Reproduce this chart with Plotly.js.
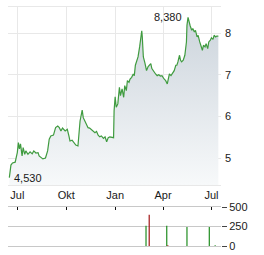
<!DOCTYPE html>
<html><head><meta charset="utf-8">
<script src="https://cdn.plot.ly/plotly-3.0.1.min.js"></script>
<style>html,body{margin:0;padding:0;background:#fff}#c{width:264px;height:255px}</style>
</head><body><div id="c"></div>
<script>
const dates = ["2024-06-16","2024-06-19","2024-06-22","2024-06-27","2024-07-01","2024-07-03","2024-07-05","2024-07-07","2024-07-10","2024-07-12","2024-07-15","2024-07-17","2024-07-21","2024-07-25","2024-07-29","2024-08-01","2024-08-05","2024-08-09","2024-08-11","2024-08-15","2024-08-18","2024-08-23","2024-08-27","2024-08-30","2024-09-02","2024-09-07","2024-09-11","2024-09-15","2024-09-18","2024-09-21","2024-09-24","2024-09-29","2024-10-03","2024-10-06","2024-10-08","2024-10-12","2024-10-15","2024-10-19","2024-10-23","2024-10-27","2024-10-31","2024-11-02","2024-11-05","2024-11-08","2024-11-11","2024-11-14","2024-11-18","2024-11-21","2024-11-24","2024-11-27","2024-11-30","2024-12-03","2024-12-06","2024-12-10","2024-12-13","2024-12-16","2024-12-19","2024-12-22","2024-12-26","2024-12-29","2024-12-30","2025-01-01","2025-01-03","2025-01-06","2025-01-09","2025-01-11","2025-01-14","2025-01-17","2025-01-19","2025-01-22","2025-01-24","2025-01-27","2025-01-29","2025-02-01","2025-02-04","2025-02-06","2025-02-08","2025-02-10","2025-02-13","2025-02-16","2025-02-18","2025-02-20","2025-02-21","2025-02-23","2025-02-26","2025-03-01","2025-03-04","2025-03-06","2025-03-09","2025-03-11","2025-03-15","2025-03-18","2025-03-21","2025-03-24","2025-03-27","2025-03-30","2025-04-03","2025-04-06","2025-04-09","2025-04-11","2025-04-13","2025-04-16","2025-04-19","2025-04-22","2025-04-25","2025-04-27","2025-04-29","2025-05-02","2025-05-04","2025-05-06","2025-05-09","2025-05-12","2025-05-15","2025-05-16","2025-05-18","2025-05-20","2025-05-22","2025-05-25","2025-05-27","2025-05-30","2025-06-01","2025-06-04","2025-06-06","2025-06-09","2025-06-11","2025-06-14","2025-06-16","2025-06-19","2025-06-21","2025-06-24","2025-06-26","2025-06-29","2025-07-01","2025-07-04","2025-07-06","2025-07-09","2025-07-11","2025-07-14"];
const prices = [4.53,4.83,4.88,4.90,5.13,5.37,5.22,5.34,5.05,5.25,5.09,5.17,5.09,5.15,5.10,5.17,5.12,5.13,5.05,5.02,4.98,5.00,5.17,5.45,5.53,5.55,5.73,5.77,5.73,5.65,5.72,5.65,5.69,5.53,5.41,5.43,5.37,5.31,5.29,5.89,6.15,5.97,5.89,5.81,5.73,5.72,5.67,5.65,5.61,5.64,5.55,5.51,5.53,5.47,5.51,5.39,5.49,5.51,5.49,5.49,6.14,6.47,6.22,6.30,6.70,6.50,6.66,6.46,6.74,6.62,6.86,6.82,6.90,6.94,7.02,6.98,7.23,7.31,7.43,7.67,7.91,8.06,7.91,7.43,7.28,7.10,7.20,7.23,7.27,7.15,7.06,7.02,6.98,7.00,6.97,6.98,6.90,6.86,6.78,6.94,7.02,6.98,7.06,7.10,7.23,7.23,7.31,7.47,7.35,7.31,7.35,7.47,7.79,8.19,8.38,8.23,8.18,8.07,8.11,8.03,8.07,7.91,7.95,7.79,7.71,7.59,7.71,7.67,7.75,7.63,7.79,7.83,7.89,7.85,7.95,7.91,7.93,7.93];
const volDates = ["2025-02-28","2025-03-06","2025-04-08","2025-04-10","2025-05-16","2025-06-27","2025-07-08"];
const volumes = [260,400,260,10,245,245,10];
const volColors = ["#1a8a1a","#a01010","#1a8a1a","#a01010","#1a8a1a","#1a8a1a","#1a8a1a"];
const tickDates = ["2024-07-01","2024-10-01","2025-01-01","2025-04-01","2025-07-01"];
const tickLabels = ["Jul","Okt","Jan","Apr","Jul"];

let iMax = 0, iMin = 0;
prices.forEach((p,i)=>{ if(p>prices[iMax]) iMax=i; if(p<prices[iMin]) iMin=i; });
const fmt = v => v.toFixed(3).replace('.', ',');
const font = {family: "Liberation Sans, Arial, sans-serif", size: 11, color: "#1a1a1a"};
const xr = ["2024-06-13 12:00","2025-07-19"];

const traces = [
  {x: dates, y: prices, type: "scatter", mode: "lines", fill: "tozeroy",
   line: {color: "#3f9b3f", width: 1.2},
   fillgradient: {type: "vertical", start: 4.35, stop: 8.4,
     colorscale: [[0, "rgb(247,249,250)"], [1, "rgb(204,212,220)"]]},
   xaxis: "x", yaxis: "y", hoverinfo: "skip"},
  {x: volDates, y: volumes, type: "bar", marker: {color: volColors},
   width: 2.2*86400000, xaxis: "x2", yaxis: "y2", hoverinfo: "skip"}
];
const layout = {
  width: 264, height: 255, margin: {l: 8, r: 43, t: 7, b: 9},
  paper_bgcolor: "#fff", plot_bgcolor: "#fff", showlegend: false, font: font,
  xaxis: {type: "date", range: xr, domain: [0,1], anchor: "y",
    tickvals: tickDates, ticktext: tickLabels, ticks: "", showgrid: true,
    gridcolor: "#e8e8e8", gridwidth: 1, showline: true, mirror: true,
    linecolor: "#e8e8e8", linewidth: 1, zeroline: false, tickfont: font},
  yaxis: {range: [4.35, 8.63], domain: [0.255, 1], side: "right", anchor: "x",
    tickvals: [5,6,7,8], ticks: "", showgrid: true, gridcolor: "#e8e8e8",
    showline: false, zeroline: false, tickfont: font, ticklabelstandoff: 3},
  xaxis2: {type: "date", range: xr, domain: [0,1], anchor: "y2", side: "top",
    tickvals: tickDates, showticklabels: false, ticks: "inside", ticklen: 3,
    tickcolor: "#111", tickwidth: 1, showgrid: false, showline: true, mirror: true,
    linecolor: "#c8c8c8", linewidth: 1, zeroline: false},
  yaxis2: {range: [0, 500], domain: [0, 0.163], side: "right", anchor: "x2",
    tickvals: [0,250,500], ticks: "outside", ticklen: 5, tickcolor: "#444",
    showgrid: true, gridcolor: "#c8c8c8", showline: false, zeroline: false,
    tickfont: font},
  annotations: [
    {x: dates[iMax], y: prices[iMax], xref: "x", yref: "y", text: fmt(prices[iMax]),
     showarrow: false, xanchor: "right", yanchor: "middle", xshift: -4, font: font},
    {x: dates[iMin], y: prices[iMin], xref: "x", yref: "y", text: fmt(prices[iMin]),
     showarrow: false, xanchor: "left", yanchor: "middle", xshift: 3, font: font}
  ]
};
Plotly.newPlot("c", traces, layout, {staticPlot: true, displayModeBar: false});
</script></body></html>
